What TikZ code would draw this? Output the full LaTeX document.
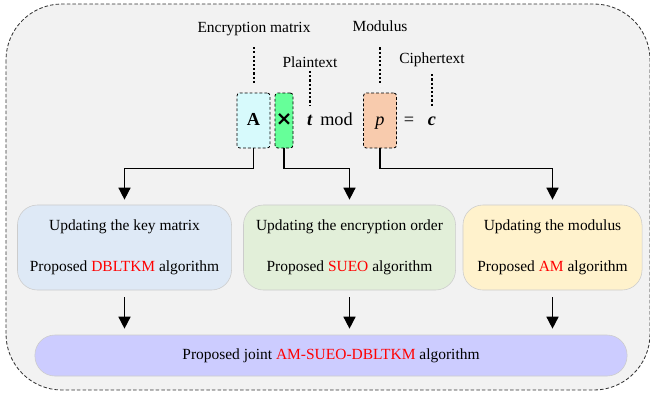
\documentclass[tikz,border=0pt]{standalone}
\usepackage{fontspec}
\setmainfont{Liberation Serif}
\newfontfamily\symfont{DejaVu Sans}
\usepackage{xcolor}
\usetikzlibrary{arrows.meta,positioning}
\definecolor{framebg}{HTML}{F2F2F2}
\definecolor{cyanbox}{HTML}{D7FAFC}
\definecolor{mulgreen}{HTML}{66FF99}
\definecolor{peachbox}{HTML}{F8CBAD}
\definecolor{keyblue}{HTML}{DEE9F6}
\definecolor{ordergreen}{HTML}{E2EFD9}
\definecolor{modyellow}{HTML}{FFF2CC}
\definecolor{jointpurple}{HTML}{CCCCFF}

\begin{document}
\begin{tikzpicture}[x=0.025cm,y=-0.025cm,
    font=\fontsize{11}{13}\selectfont,
    term/.style={draw=black,line width=0.6pt,dash pattern=on 2pt off 1.5pt,rounded corners=2pt,
      minimum width=0.825cm,minimum height=1.375cm,
      inner sep=0pt,text height=9pt,text depth=2pt,font=\fontsize{13}{13}\selectfont},
    sym/.style={anchor=base,inner sep=0pt,text height=9pt,text depth=2pt,font=\fontsize{13}{13}\selectfont},
    lbl/.style={anchor=base,inner sep=0pt},
    stage/.style={draw=black!20,rounded corners=0.5cm,minimum height=2.125cm,align=center,inner sep=0pt},
    dotln/.style={line width=1.2pt,dash pattern=on 1.5pt off 1.5pt},
    arr/.style={line width=1.1pt,-{Triangle[width=8.5pt,length=8.5pt]}}]
    \useasboundingbox (0,0) rectangle (650,397);
    % Outer frame
    \draw[fill=framebg,draw=black!80,line width=0.6pt,dash pattern=on 2.5pt off 1.5pt,rounded corners=1.4cm]
      (6,4) rectangle (650,390);
    % Terms of the encryption
    \node[term,fill=cyanbox] (matA) at (253.5,120.5) {\textbf{A}};
    \node[term,fill=mulgreen,minimum width=0.45cm] (mul) at (284,120.5) {\symfont\bfseries\fontsize{14}{14}\selectfont ×};
    \node[sym] (tvar) at (310,125.5) {\textbf{\textit{t}}};
    \node[sym] (modw) at (336.5,125.5) {mod};
    \node[term,fill=peachbox] (modp) at (380,120.5) {\textit{p}};
    \node[sym] (eq) at (409,125.5) {=};
    \node[sym] (cvar) at (432,125.5) {\textbf{\textit{c}}};
    % Labels
    \node[lbl] (lblEnc) at (254,32) {Encryption matrix};
    \node[lbl] (lblPlain) at (310,67) {Plaintext};
    \node[lbl] (lblMod) at (380,31.5) {Modulus};
    \node[lbl] (lblCipher) at (432,63) {Ciphertext};
    \draw[dotln,shorten <=8.2pt,shorten >=7pt] (lblEnc.south) -- (lblEnc.south |- matA.north);
    \draw[dotln,shorten <=2.5pt,shorten >=4.8pt] (lblPlain.south) -- (tvar.north);
    \draw[dotln,shorten <=11pt,shorten >=7pt] (lblMod.south) -- (modp.north);
    \draw[dotln,shorten <=5.4pt,shorten >=4.1pt] (lblCipher.south) -- (cvar.north);
    % Stages
    \node[stage,fill=keyblue,minimum width=5.35cm] (keybox) at (124.5,247.5)
      {Updating the key matrix\\[16pt]Proposed \textcolor{red}{DBLTKM} algorithm};
    \node[stage,fill=ordergreen,minimum width=5.3cm] (orderbox) at (349.5,247.5)
      {Updating the encryption order\\[16pt]Proposed \textcolor{red}{SUEO} algorithm};
    \node[stage,fill=modyellow,minimum width=4.475cm] (modbox) at (552.5,247.5)
      {Updating the modulus\\[16pt]Proposed \textcolor{red}{AM} algorithm};
    \node[stage,fill=jointpurple,minimum width=14.8cm,minimum height=1.025cm,rounded corners=0.5cm]
      (joint) at (331,355.5) {Proposed joint \textcolor{red}{AM-SUEO-DBLTKM} algorithm};
    % Arrows
    \draw[arr,shorten >=3.6pt] (matA.south) -- ++(0,20) -| (keybox.north);
    \draw[arr,shorten >=3.6pt] (mul.south) -- ++(0,20) -| (orderbox.north);
    \draw[arr,shorten >=3.6pt] (modp.south) -- ++(0,20) -| (modbox.north);
    \foreach \b in {keybox,orderbox,modbox}
      \draw[arr,shorten <=5pt,shorten >=4.3pt] (\b.south) -- (\b.south |- joint.north);
\end{tikzpicture}
\end{document}
